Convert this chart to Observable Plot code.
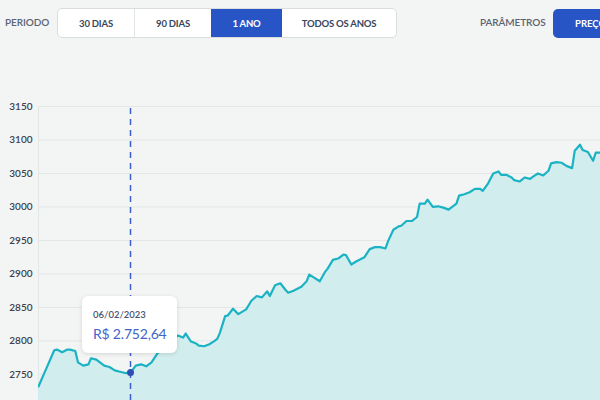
<!DOCTYPE html>
<html>
<head>
<meta charset="utf-8">
<script src="https://cdn.jsdelivr.net/npm/d3@7"></script>
<script src="https://cdn.jsdelivr.net/npm/@observablehq/plot@0.6"></script>
<style>
  html, body { margin: 0; padding: 0; }
  body { width: 600px; height: 400px; overflow: hidden; background: #f3f4f4; font-family: Lato, "Noto Sans", sans-serif; position: relative; }
  .lbl { position: absolute; top: 16px; font-size: 10px; font-weight: 600; color: #5a6472; letter-spacing: -0.1px; }
  .group { position: absolute; left: 57px; top: 8px; width: 338px; height: 28px; border: 1px solid #d9dddd; border-radius: 5px; background: #fff; overflow: hidden; display: flex; }
  .seg { height: 100%; display: flex; align-items: center; justify-content: center; font-size: 9.5px; font-weight: 700; color: #38465c; letter-spacing: -0.2px; box-sizing: border-box; }
  .seg.active { background: #2855c6; color: #fff; }
  .btn { position: absolute; left: 553px; top: 9px; width: 80px; height: 29px; border-radius: 5px; background: #2855c6; color: #fff; font-size: 9.5px; font-weight: 700; display: flex; align-items: center; padding-left: 22px; box-sizing: border-box; }
  #chart { position: absolute; left: 0; top: 46px; }
  .tip { position: absolute; left: 82px; top: 296px; width: 95px; height: 57px; background: #fff; border-radius: 6px; box-shadow: 0 1px 4px rgba(0,0,0,0.13); box-sizing: border-box; padding: 13px 0 0 11px; }
  .tip .d { font-size: 9.5px; font-weight: 600; color: #4a5470; }
  .tip .v { font-size: 14px; color: #4264c9; margin-top: 5px; letter-spacing: -0.2px; }
</style>
</head>
<body>
<div class="lbl" style="left:5px">PERIODO</div>
<div class="group">
  <div class="seg" style="width:77px;border-right:1px solid #e2e5e5">30 DIAS</div>
  <div class="seg" style="width:76px">90 DIAS</div>
  <div class="seg active" style="width:71px">1 ANO</div>
  <div class="seg" style="width:114px">TODOS OS ANOS</div>
</div>
<div class="lbl" style="left:480px">PARÂMETROS</div>
<div class="btn">PREÇO</div>
<div id="chart"></div>
<div class="tip"><div class="d">06/02/2023</div><div class="v">R$ 2.752,64</div></div>
<script>
// Day offsets from 2023-01-02 and closing values
const startDate = "2023-01-02";
const dayOffsets = [0, 3, 6, 7, 9, 11, 12, 14, 15, 17, 19, 20, 22, 24, 25, 27, 29, 31, 33, 35,
  37, 39, 41, 43, 45, 53, 55, 56, 58, 60, 61, 63, 65, 67, 68, 69, 71, 72, 74, 76, 79,
  81, 83, 85, 87, 88, 90, 92, 94, 95, 97, 100, 102, 103, 105, 107, 109, 110, 112, 114,
  116, 117, 119, 121, 124, 126, 128, 130, 132, 133, 135, 137, 138, 140, 142, 144, 145,
  147, 148, 150, 152, 154, 156, 157, 159, 160, 162, 164, 166, 168, 169, 171, 173, 175,
  176, 178, 180, 181, 183, 185, 187, 188, 190, 192, 194, 195, 197, 199, 201, 203, 204,
  206, 207, 209, 211, 212, 214];
const prices = [2732, 2759, 2786, 2787, 2783, 2787, 2787, 2785, 2768, 2763, 2765, 2774, 2772, 2766, 2763, 2761, 2756, 2754, 2752, 2752.64,
  2763, 2765, 2762, 2768, 2780, 2808, 2805, 2811, 2799, 2796, 2793, 2792, 2795, 2800, 2803, 2812, 2837, 2838, 2848, 2840, 2847,
  2860, 2867, 2865, 2874, 2867, 2883, 2886, 2876, 2872, 2875, 2881, 2889, 2899, 2894, 2889, 2903, 2908, 2921, 2923,
  2929, 2928, 2914, 2919, 2925, 2937, 2940, 2940, 2938, 2949, 2966, 2971, 2972, 2979, 2979, 2985, 3005,
  3005, 3011, 3000, 3001, 2999, 2996, 2999, 3005, 3017, 3019, 3022, 3027, 3027, 3024, 3035, 3050, 3053,
  3048, 3048, 3044, 3040, 3038, 3044, 3042, 3045, 3050, 3047, 3054, 3065, 3067, 3066, 3061, 3058, 3084,
  3093, 3085, 3082, 3069, 3081, 3081];
const yTicks = [2750, 2800, 2850, 2900, 2950, 3000, 3050, 3100, 3150];
const tipOffset = 35;
const tipValue = 2752.64;

const t0 = Date.parse(startDate + "T00:00:00Z");
const toDate = (o) => new Date(t0 + o * 864e5);
const data = dayOffsets.map((o, i) => ({date: toDate(o), price: prices[i]}));
const tip = [{date: toDate(tipOffset), price: tipValue}];
const xDomain = [toDate(0), toDate(213.8)];
const yDomain = [2711, 3150];

const chart = Plot.plot({
  width: 600,
  height: 354,
  marginLeft: 38,
  marginRight: 0,
  marginTop: 60,
  marginBottom: 0,
  style: {background: "transparent", fontFamily: "Lato, 'Noto Sans', sans-serif", fontSize: "10px", color: "#3b4250"},
  x: {type: "utc", domain: xDomain, axis: null},
  y: {domain: yDomain, axis: null},
  marks: [
    Plot.gridY(yTicks, {stroke: "#e3e6e6", strokeOpacity: 1, strokeWidth: 1}),
    Plot.ruleX([xDomain[0]], {y1: yDomain[0], y2: 3150, stroke: "#e3e6e6", strokeWidth: 1}),
    Plot.areaY(data, {x: "date", y1: yDomain[0] - 20, y2: "price", fill: "#d2eded", clip: true}),
    Plot.lineY(data, {x: "date", y: "price", stroke: "#1bb3c4", strokeWidth: 2.2, clip: true}),
    Plot.ruleX(tip, {x: "date", y1: yDomain[0], y2: 3150, stroke: "#3d5fcc", strokeWidth: 1.5, strokeDasharray: "6,5"}),
    Plot.dot(tip, {x: "date", y: "price", r: 3.5, fill: "#2c4fb6", stroke: "none"}),
    Plot.axisY(yTicks, {tickSize: 0, tickPadding: 6, fontWeight: 600, fill: "#3b4250", label: null, tickFormat: (d) => String(d)})
  ]
});
document.getElementById("chart").appendChild(chart);
</script>
</body>
</html>
